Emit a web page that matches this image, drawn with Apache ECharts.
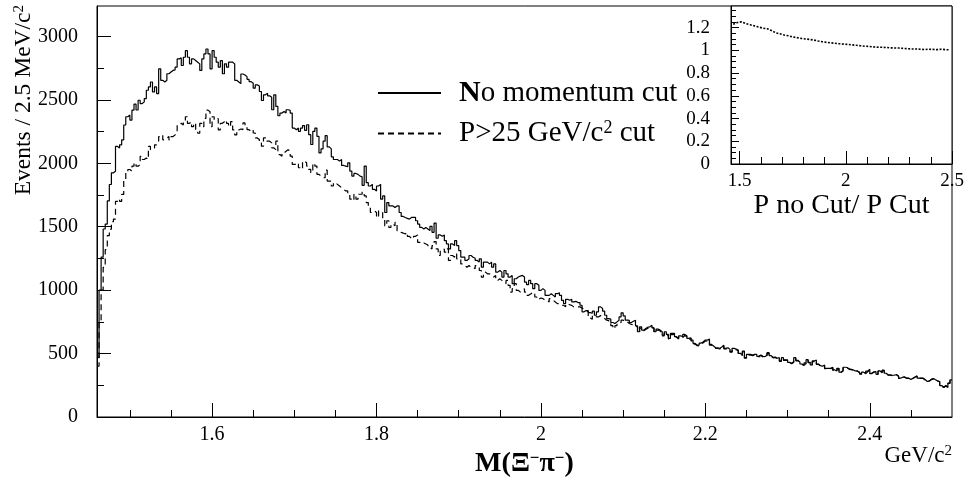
<!DOCTYPE html>
<html>
<head>
<meta charset="utf-8">
<script src="https://cdn.jsdelivr.net/npm/echarts@6/dist/echarts.min.js"></script>
<style>
html, body { margin: 0; padding: 0; background: #fff; }
#chart { width: 967px; height: 483px; }
</style>
</head>
<body>
<div id="chart"></div>
<script>
// M(Xi- pi-) histograms, 2.5 MeV bins starting at 1.46 GeV
var binStart = 1.46;
var binWidth = 0.0025;

var noCut = [
  470,1000,1260,1482,1521,1703,1833,1925,1938,2133, 2120,2146,2185,2302,2367,2380,2341,2419,2466,2420,
  2497,2471,2484,2510,2576,2602,2641,2563,2602,2550, 2745,2654,2641,2654,2706,2719,2732,2737,2758,2823,
  2831,2771,2836,2888,2836,2784,2823,2810,2797,2784, 2732,2823,2862,2901,2862,2745,2888,2836,2797,2758,
  2810,2706,2784,2758,2797,2797,2784,2654,2641,2628,
  2704,2696,2683,2662,2644,2631,2592,2618,2610,2566, 2495,2540,2553,2532,2521,2422,2540,2448,2375,2396,
  2409,2396,2422,2417,2396,2278,2265,2278,2252,2278, 2297,2260,2304,2226,2148,2252,2278,2213,2082,2114,
  2174,2218,2129,2114,2051,2030,2030,2017,2030,1983, 1978,1973,2004,1939,1899,1920,1913,1899,1894,1826,
  1978,1847,1821,1834,1795,1782,1821,1834,1717,1743, 1612,1690,1664,1664,1651,1664,1664,1612,
  1581,1573,1566,1560,1573,1573,1573,1547,1521,1495, 1482,1495,1482,1469,1503,1456,1529,1409,1435,1424,
  1435,1390,1364,1325,1364,1351,1390,1351,1312,1260, 1260,1234,1247,1273,1260,1252,1234,1221,1247,1181,
  1221,1221,1207,1221,1181,1207,1142,1155,1142,1103, 1155,1129,1103,1116,1051,1090,1103,1111,1116,1103,
  1064,1043,1077,1051,1012,1051,1038,998,1012,998, 959,959,972,959,946,972,980,959,920,894,
  928,920,928,907,912,902,902,881,829,839, 839,823,818,834,802,829,868,855,834,802,
  776,771,745,737,750,763,789,821,797,763, 761,745,755,763,719,672,711,685,698,708,
  711,724,703,672,693,685,672,646,672,651, 620,659,659,633,620,640,633,651,640,620,
  625,607,580,567,567,583,593,607,607,614, 572,559,546,546,541,552,567,541,546,533,
  515,541,536,528,502,489,520,468,494,494, 489,494,494,478,489,
  478,476,489,507,484,470,473,463,468,442, 468,450,450,431,423,436,468,447,434,418,
  410,426,452,431,410,442,450,418,405,400, 410,384,384,384,392,371,363,384,353,366,
  392,390,379,376,371,363,363,353,337,353, 345,361,376,345,356,358,337,363,348,369,
  345,332,332,329,329,335,324,306,314,316, 306,306,295,306,316,324,306,306,306,293,
  280,285,298,303,293,285,280,248,233,248, 233,267,293
];

var pCut = [
  400,750,1000,1180,1320,1430,1480,1540,1560,1700, 1716,1700,1755,1872,1925,1951,1938,1977,2003,1977,
  1990,2055,2030,2042,2030,2133,2107,2120,2146,2159, 2211,2224,2185,2198,2211,2185,2211,2224,2237,2302,
  2315,2302,2328,2367,2315,2328,2289,2315,2263,2237, 2315,2289,2354,2419,2406,2289,2367,2341,2354,2263,
  2315,2328,2341,2315,2289,2328,2263,2224,2263,2270,
  2265,2318,2291,2265,2252,2265,2239,2200,2187,2161, 2135,2200,2174,2174,2161,2122,2108,2174,2069,2056,
  2082,2095,2108,2095,2056,1991,1991,2004,1965,1952, 2017,2004,1978,1952,1926,1999,1978,1913,1899,1886,
  1886,1946,1860,1860,1821,1847,1834,1821,1808,1795, 1782,1782,1756,1717,1703,1756,1717,1756,1756,1774,
  1743,1690,1651,1612,1625,1612,1573,1625,1612,1560, 1507,1547,1494,1521,1507,1534,1468,1455,
  1450,1443,1456,1424,1409,1403,1424,1435,1377,1364, 1372,1364,1356,1338,1325,1351,1383,1325,1273,1312,
  1325,1299,1325,1234,1273,1260,1286,1247,1247,1207, 1194,1181,1194,1181,1181,1168,1194,1181,1155,1103,
  1142,1129,1129,1116,1103,1116,1077,1090,1077,1064, 1051,1077,1038,985,1012,1051,998,985,998,1012,
  985,959,970,980,980,946,928,938,933,920, 920,907,933,920,907,894,894,881,881,868,
  890,885,880,868,870,868,868,860,845,839, 830,780,770,800,790,789,800,790,776,763,
  760,737,720,698,720,740,745,763,750,750, 737,730,728,715,710,
  665,700,680,690,700,702,712,698,668,684, 678,664,640,662,645,615,650,651,628,614,
  633,627,642,633,614,618,600,575,562,561, 576,585,598,600,606,566,553,541,540,536,
  546,559,536,540,528,511,534,530,522,498, 484,513,464,488,489,484,489,488,474,484,
  474,472,484,501,480,466,469,459,464,439, 463,446,446,428,420,432,462,443,430,415,
  407,422,447,428,407,437,445,415,402,397, 406,381,381,381,388,368,360,380,350,363,
  388,386,376,373,368,360,360,350,335,350, 342,357,372,342,353,355,335,359,345,365,
  342,329,329,326,326,332,321,304,311,313, 304,304,293,304,313,321,304,304,304,291,
  278,283,295,300,291,283,278,246,232,246, 232,265,290
];

// inset: P no Cut / P Cut, points every 0.02 GeV from 1.47
var ratioStart = 1.47;
var ratioStep = 0.02;
var ratio = [
  1.23,1.245,1.25,1.235,1.225,1.215,1.205,1.195,1.19,1.175,
  1.155,1.145,1.135,1.128,1.118,1.112,1.105,1.10,1.096,1.09,
  1.082,1.075,1.07,1.066,1.062,1.058,1.055,1.052,1.048,1.044,
  1.04,1.036,1.034,1.03,1.028,1.027,1.025,1.022,1.021,1.02,
  1.017,1.015,1.012,1.012,1.01,1.007,1.01,1.008,1.006,1.01,
  1.006,1.004
];

var massMajorTicks = [1.6, 1.8, 2, 2.2, 2.4];
var massMinorTicks = [1.5, 1.55, 1.65, 1.7, 1.75, 1.85, 1.9, 1.95, 2.05, 2.1, 2.15, 2.25, 2.3, 2.35, 2.45];
var countMajorTicks = [0, 500, 1000, 1500, 2000, 2500, 3000];
var countMinorTicks = [250, 750, 1250, 1750, 2250, 2750];
var insetXMajor = [1.5, 2, 2.5];
var insetXMinor = [1.6, 1.7, 1.8, 1.9, 2.1, 2.2, 2.3, 2.4];
var insetYMajor = [0, 0.2, 0.4, 0.6, 0.8, 1, 1.2];
var insetYMinor = [0.05, 0.1, 0.15, 0.25, 0.3, 0.35, 0.45, 0.5, 0.55, 0.65, 0.7, 0.75,
  0.85, 0.9, 0.95, 1.05, 1.1, 1.15, 1.25, 1.3, 1.35];

var serif = "'Liberation Serif', 'DejaVu Serif', serif";

function histPoints(vals) {
  var pts = vals.map(function (v, k) { return [binStart + k * binWidth, v]; });
  pts.push([binStart + vals.length * binWidth, vals[vals.length - 1]]);
  return pts;
}

function plain(v) { return String(v); }

var myChart = echarts.init(document.getElementById("chart"));

var axisLineStyle = { lineStyle: { color: "#000", width: 1 } };
var tickStyle = { color: "#000", width: 1 };

var option = {
  animation: false,
  backgroundColor: "#fff",
  grid: [
    { left: 97, top: 6, width: 855, height: 413, show: true, borderColor: "#000", borderWidth: 1 },
    { left: 731, top: 6, width: 221, height: 158, show: true, borderColor: "#000", borderWidth: 1,
      backgroundColor: "#fff", z: 5 }
  ],
  legend: {
    orient: "vertical",
    left: 377,
    top: 78,
    padding: 0,
    itemWidth: 63,
    itemHeight: 14,
    itemGap: 11,
    data: ["No momentum cut", "P>25 GeV/c2 cut"],
    itemStyle: { opacity: 0 },
    formatter: function (name) {
      return name === "No momentum cut" ? "{b|N}o momentum cut" : "P>25 GeV/c{sup|2} cut";
    },
    textStyle: {
      fontFamily: serif, fontSize: 29, color: "#000", padding: [0, 0, 0, 13],
      rich: {
        b: { fontFamily: serif, fontSize: 30, fontWeight: "bold", color: "#000" },
        sup: { fontFamily: serif, fontSize: 18, color: "#000", verticalAlign: "top", padding: [0, 0, 10, 0] }
      }
    }
  },
  graphic: [
    {
      type: "text",
      x: 24,
      y: 5,
      rotation: Math.PI / 2,
      style: {
        text: "Events / 2.5 MeV/c{sup|2}",
        fontFamily: serif, fontSize: 23.5, fill: "#000",
        align: "right", verticalAlign: "middle",
        rich: { sup: { fontFamily: serif, fontSize: 15, fill: "#000", verticalAlign: "top", padding: [0, 0, 8, 0] } }
      }
    }
  ],
  xAxis: [
    {
      gridIndex: 0, type: "value", min: 1.46, max: 2.5, position: "bottom",
      axisLine: axisLineStyle,
      axisTick: { inside: true, length: 14, customValues: massMajorTicks, lineStyle: tickStyle },
      axisLabel: { customValues: massMajorTicks, formatter: plain, margin: 8,
        fontFamily: serif, fontSize: 20, color: "#000" },
      splitLine: { show: false },
      name: "M(Ξ{sup|−}π{sup|−})",
      nameLocation: "middle",
      nameGap: 33,
      nameTextStyle: {
        fontFamily: serif, fontSize: 28, fontWeight: "bold", color: "#000",
        rich: { sup: { fontFamily: serif, fontSize: 17, fontWeight: "bold", color: "#000", verticalAlign: "top", padding: [0, 0, 10, 0] } }
      }
    },
    {
      gridIndex: 0, type: "value", min: 1.46, max: 2.5, position: "bottom",
      axisLine: { show: false },
      axisTick: { inside: true, length: 7, customValues: massMinorTicks, lineStyle: tickStyle },
      axisLabel: { show: false },
      splitLine: { show: false },
      name: "GeV/c{sup|2}",
      nameLocation: "end",
      nameGap: 0,
      nameTextStyle: {
        fontFamily: serif, fontSize: 23, color: "#000", align: "right", verticalAlign: "top",
        padding: [27, 0, 0, 0],
        rich: { sup: { fontFamily: serif, fontSize: 15, color: "#000", verticalAlign: "top", padding: [0, 0, 8, 0] } }
      }
    },
    {
      gridIndex: 1, type: "value", min: 1.46, max: 2.5, position: "bottom", z: 6,
      axisLine: axisLineStyle,
      axisTick: { inside: true, length: 13, customValues: insetXMajor, lineStyle: tickStyle },
      axisLabel: { customValues: insetXMajor, formatter: plain, margin: 8,
        fontFamily: serif, fontSize: 19, color: "#000" },
      splitLine: { show: false },
      name: "P no Cut/ P Cut",
      nameLocation: "middle",
      nameGap: 27,
      nameTextStyle: { fontFamily: serif, fontSize: 28, color: "#000" }
    },
    {
      gridIndex: 1, type: "value", min: 1.46, max: 2.5, position: "bottom", z: 6,
      axisLine: { show: false },
      axisTick: { inside: true, length: 7, customValues: insetXMinor, lineStyle: tickStyle },
      axisLabel: { show: false },
      splitLine: { show: false }
    }
  ],
  yAxis: [
    {
      gridIndex: 0, type: "value", min: 0, max: 3240, position: "left",
      axisLine: axisLineStyle,
      axisTick: { inside: true, length: 14, customValues: countMajorTicks, lineStyle: tickStyle },
      axisLabel: { customValues: countMajorTicks, formatter: plain, margin: 19,
        fontFamily: serif, fontSize: 20, color: "#000" },
      splitLine: { show: false }
    },
    {
      gridIndex: 0, type: "value", min: 0, max: 3240, position: "left",
      axisLine: { show: false },
      axisTick: { inside: true, length: 7, customValues: countMinorTicks, lineStyle: tickStyle },
      axisLabel: { show: false },
      splitLine: { show: false }
    },
    {
      gridIndex: 1, type: "value", min: 0, max: 1.39, position: "left", z: 6,
      axisLine: axisLineStyle,
      axisTick: { inside: true, length: 8, customValues: insetYMajor, lineStyle: tickStyle },
      axisLabel: { customValues: insetYMajor, formatter: plain, margin: 21,
        fontFamily: serif, fontSize: 19, color: "#000" },
      splitLine: { show: false }
    },
    {
      gridIndex: 1, type: "value", min: 0, max: 1.39, position: "left", z: 6,
      axisLine: { show: false },
      axisTick: { inside: true, length: 5, customValues: insetYMinor, lineStyle: tickStyle },
      axisLabel: { show: false },
      splitLine: { show: false }
    }
  ],
  series: [
    {
      name: "P>25 GeV/c2 cut",
      type: "line",
      step: "end",
      xAxisIndex: 0,
      yAxisIndex: 0,
      symbol: "none",
      data: histPoints(pCut),
      lineStyle: { color: "#000", width: 1.2, type: [6, 4] },
      itemStyle: { color: "#000" },
      z: 2
    },
    {
      name: "No momentum cut",
      type: "line",
      step: "end",
      xAxisIndex: 0,
      yAxisIndex: 0,
      symbol: "none",
      data: histPoints(noCut),
      lineStyle: { color: "#000", width: 1.2 },
      itemStyle: { color: "#000" },
      z: 3
    },
    {
      name: "ratio",
      type: "line",
      xAxisIndex: 2,
      yAxisIndex: 2,
      symbol: "none",
      data: ratio.map(function (r, i) { return [ratioStart + i * ratioStep, r]; }),
      lineStyle: { color: "#000", width: 1.6, type: [2, 1.5] },
      z: 8
    }
  ]
};

option && myChart.setOption(option);
</script>
</body>
</html>
